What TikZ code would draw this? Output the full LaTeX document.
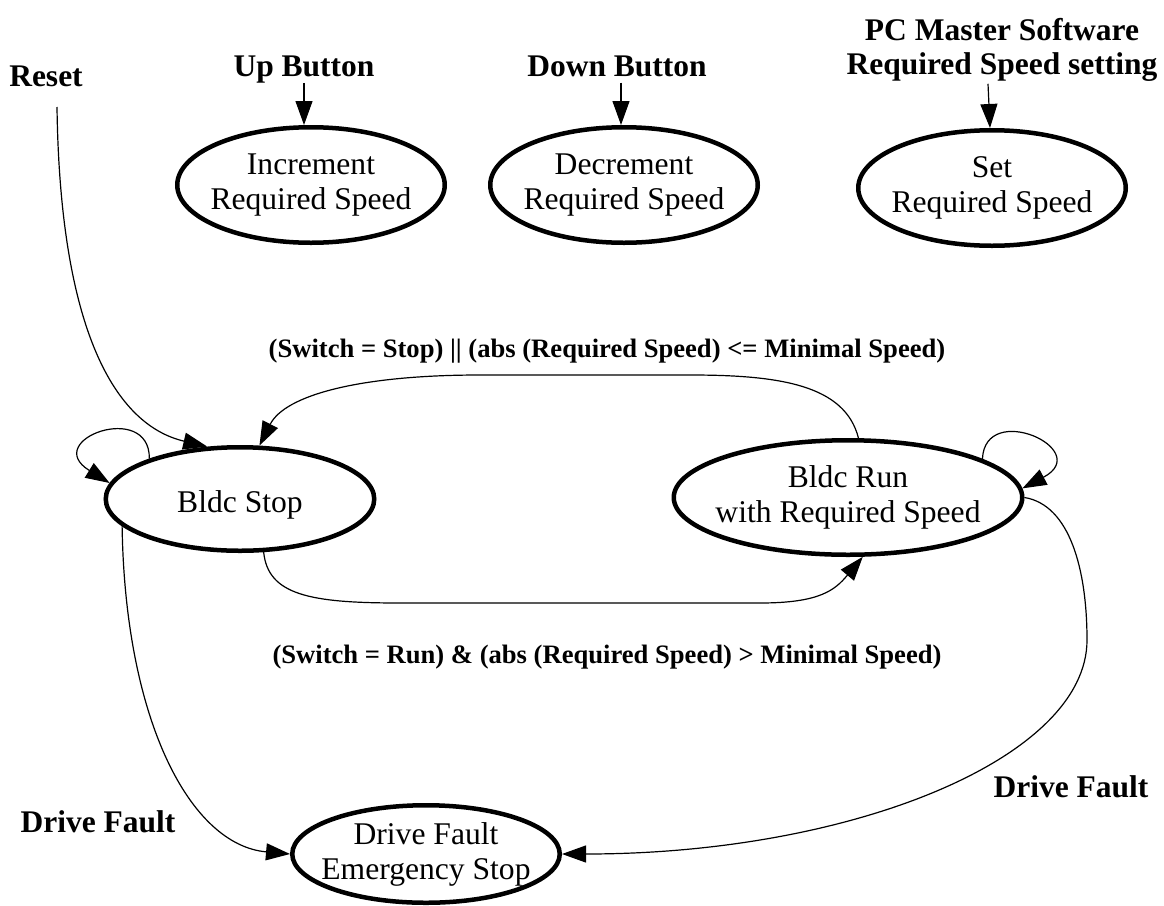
\documentclass[tikz,border=0pt]{standalone}
\usepackage{fontspec}
\setmainfont{Liberation Serif}
\usetikzlibrary{arrows.meta,shapes.geometric}

\tikzset{
  stateshape/.style={ellipse, draw, line width=4.5pt, inner sep=0pt,
    minimum width=267.5pt, minimum height=115.5pt},
  statetext/.style={font=\fontsize{31.6}{35}\selectfont, align=center, inner sep=0pt},
  evt/.style={font=\fontsize{31.5}{34}\selectfont\bfseries, align=center, inner sep=0pt},
  cond/.style={font=\fontsize{26.6}{30}\selectfont\bfseries, inner sep=0pt},
  trans/.style={line width=1.2pt, -{Triangle[length=24pt,width=17pt]}},
}

\begin{document}
\begin{tikzpicture}[x=1pt, y=-1pt]
  \useasboundingbox (0,0) rectangle (1164,905);

  % speed-setting states
  \node[stateshape, label={[statetext]center:{Increment\\Required Speed}}] (inc) at (311,185) {};
  \node[stateshape, label={[statetext]center:{Decrement\\Required Speed}}] (dec) at (624,185) {};
  \node[stateshape, label={[statetext]center:{Set\\Required Speed}}] (set) at (992,188) {};

  % motor states
  \node[stateshape, minimum width=268.5pt, minimum height=103.5pt,
        label={[statetext, yshift=-6pt]center:{Bldc Stop}}] (stop) at (240,499) {};
  \node[stateshape, minimum width=348.5pt, minimum height=114.5pt,
        label={[statetext]center:{Bldc Run\\with Required Speed}}] (run) at (848,497.5) {};
  \node[stateshape, minimum height=97.5pt,
        label={[statetext]center:{Drive Fault\\Emergency Stop}}] (dfes) at (426,854) {};

  % events
  \node[evt, anchor=base] (reset) at (46,86) {Reset};
  \node[evt, anchor=base] (up) at (304,76) {Up Button};
  \node[evt, anchor=base] (down) at (617,76) {Down Button};
  \node[evt] (pc) at (1002,50) {PC Master Software\\Required Speed setting};
  \node[evt, anchor=base] (dfl) at (98,832) {Drive Fault};
  \node[evt, anchor=base] (dfr) at (1071,797) {Drive Fault};
  \node[cond, anchor=base] (c1) at (607,357)
    {(Switch = Stop) || (abs (Required Speed) <= Minimal Speed)};
  \node[cond, anchor=base] (c2) at (607,663)
    {(Switch = Run) \& (abs (Required Speed) > Minimal Speed)};

  \coordinate (rs) at (57,107);

  % event arrows into the speed-setting states
  \draw[trans] (up.south) -- (up.south |- inc.north);
  \draw[trans] ([xshift=4pt,yshift=-6pt]down.south) -- ([xshift=4pt]down.south |- dec.north);
  \draw[trans] ([xshift=-14pt,yshift=-2pt]pc.south) -- ([xshift=-2pt]set.north);

  % transitions
  \draw[trans] (rs) .. controls (60,330) and (115,425) .. (stop.122);
  \draw[trans] (stop.156) .. controls (150,400) and (40,440) .. (stop.173);
  \draw[trans] (run.16) .. controls (985,400) and (1095,450) .. (run.3);
  \draw[trans] (run.80) .. controls (845,385) and (780,375) .. (690,375)
     -- (480,375) .. controls (360,375) and (285,395) .. (stop.70);
  \draw[trans] (stop.-66) .. controls (268,595) and (310,603) .. (400,603)
     -- (760,603) .. controls (820,603) and (835,590) .. (run.-76);
  \draw[trans] (stop.193) .. controls (125,720) and (190,845) .. (dfes.west);
  \draw[trans] (run.east) .. controls (1070,505) and (1087,570) .. (1087,640)
     .. controls (1087,758) and (852,854) .. (dfes.east);
\end{tikzpicture}
\end{document}
